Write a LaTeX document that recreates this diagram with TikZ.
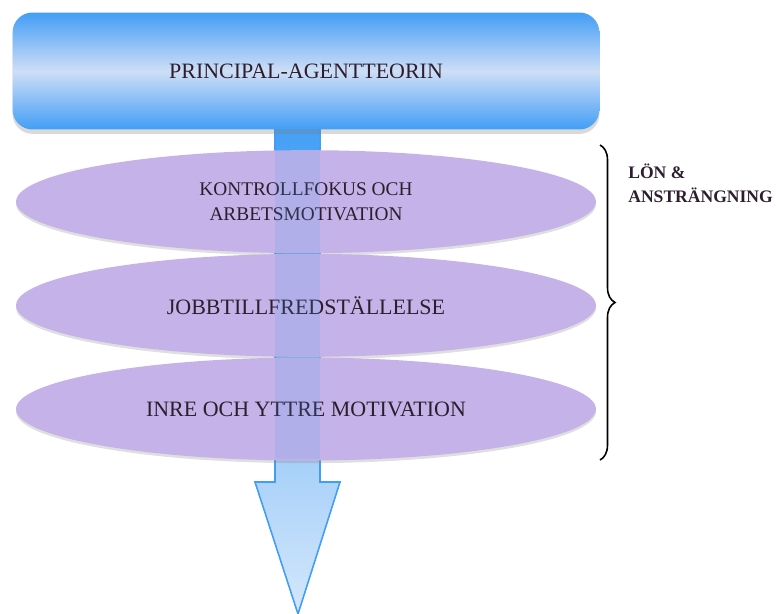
\documentclass[tikz,border=0pt]{standalone}
\usepackage{fontspec}
\setmainfont{Liberation Serif}
\usetikzlibrary{positioning,calc,shapes.geometric,shadows,decorations.pathreplacing}
\definecolor{boxblue}{RGB}{66,158,245}
\definecolor{boxlight}{RGB}{206,222,246}
\definecolor{lilac}{RGB}{196,178,232}
\definecolor{headlight}{RGB}{212,231,251}
\definecolor{ink}{RGB}{45,30,45}

\begin{document}
\begin{tikzpicture}[x=0.02cm,y=-0.02cm,every node/.style={text=ink}]
  \tikzstyle{layer} = [ellipse,fill=lilac,minimum width=11.6cm,minimum height=2.06cm,inner sep=0pt,align=center,
    font=\fontsize{12.5}{15}\selectfont,drop shadow={shadow xshift=0pt,shadow yshift=-1.5pt,opacity=.25}];
  \tikzset{theorybox/.style={rounded corners=.4cm,minimum width=11.74cm,minimum height=2.34cm,
    top color=boxblue,bottom color=boxblue,middle color=boxlight,font=\fontsize{12.5}{15}\selectfont,
    drop shadow={shadow xshift=0pt,shadow yshift=-2.5pt,opacity=.3}}};
  \useasboundingbox (0,0) rectangle (777,614);
  % block arrow, behind the rest
  \coordinate (tip) at (298,614);
  \draw[draw=boxblue,line width=.9pt,line join=miter,top color=boxblue,bottom color=headlight]
    (275,120) -- (320,120) -- (320,482) -- (340,482) -- (tip) -- (255,482) -- (275,482) -- cycle;
  \node[theorybox] (theory) at (306,71) {PRINCIPAL-AGENTTEORIN};
  \node[layer,below=.4cm of theory,font=\fontsize{11}{14}\selectfont] (ctrl) {KONTROLLFOKUS OCH\\ARBETSMOTIVATION};
  \node[layer,below=0pt of ctrl] (job) {JOBBTILLFREDSTÄLLELSE};
  \node[layer,below=0pt of job] (motiv) {INRE OCH YTTRE MOTIVATION};
  \fill[boxblue,fill opacity=.15] (275,150) rectangle (320,459);
  % brace
  \coordinate (bt) at (600,145);
  \coordinate (bb) at (600,460);
  \draw[decorate,decoration={brace,amplitude=.3cm},line width=.9pt] (bt) -- (bb);
  \node[anchor=north west,align=left,inner sep=0pt,font=\bfseries\fontsize{10}{13.6}\selectfont] (pay) at (628,164) {LÖN \&\\ANSTRÄNGNING};
\end{tikzpicture}
\end{document}
